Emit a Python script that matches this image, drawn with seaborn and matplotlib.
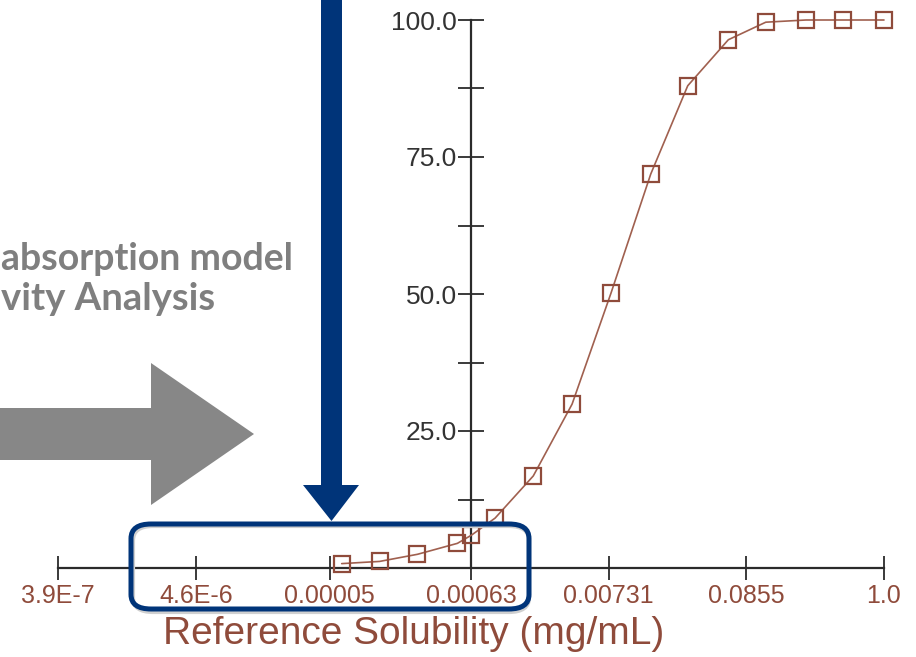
import matplotlib
matplotlib.use("Agg")
import matplotlib.pyplot as plt
from matplotlib.patches import Polygon, FancyBboxPatch
from matplotlib.ticker import FixedLocator, NullFormatter
import numpy as np
import pandas as pd
import seaborn as sns

# Fraction absorbed versus reference solubility (log scale)
solubility = [6.2e-5, 1.22e-4, 2.4e-4, 4.9e-4, 6.3e-4, 9.6e-4, 1.9e-3, 3.8e-3,
              7.6e-3, 0.0155, 0.030, 0.062, 0.121, 0.248, 0.48, 1.0]
absorbed = [0.8, 1.2, 2.5, 4.5, 6.0, 9.1, 16.8, 29.9,
            50.1, 71.9, 88.0, 96.4, 99.6, 100.0, 100.0, 100.0]

x_tick_values = [3.9e-7, 4.6e-6, 5e-5, 6.3e-4, 7.31e-3, 0.0855, 1.0]
x_tick_labels = ["3.9E-7", "4.6E-6", "0.00005", "0.00063", "0.00731", "0.0855", "1.0"]
y_major = [25.0, 50.0, 75.0, 100.0]
y_minor = [12.5, 37.5, 62.5, 87.5]

x_label = "Reference Solubility (mg/mL)"
note_line1 = "absorption model"
note_line2 = "vity Analysis"

sns.set_theme(style="white")
plt.rcParams["font.family"] = ["Liberation Sans", "DejaVu Sans"]

W, H = 916, 657
fig = plt.figure(figsize=(W / 100, H / 100), dpi=100)


def fx(px):
    return px / W


def fy(py):
    return 1 - py / H


ax = fig.add_axes([fx(58), fy(568), fx(884) - fx(58), fy(20) - fy(568)])
ax.set_xscale("log")

brown = "#8f4b3b"
axis_col = "#2b2b2b"

df = pd.DataFrame({"solubility": solubility, "absorbed": absorbed})
sns.lineplot(data=df, x="solubility", y="absorbed", ax=ax, color="#a0604f",
             linewidth=1.2, marker="s", markersize=12, markerfacecolor="none",
             markeredgecolor=brown, markeredgewidth=1.6, clip_on=False, zorder=3)

ax.set_xlim(x_tick_values[0], x_tick_values[-1])
ax.set_ylim(0, 100)

for side in ["top", "right"]:
    ax.spines[side].set_visible(False)
ax.spines["left"].set_position(("data", x_tick_values[3]))
ax.spines["bottom"].set_position(("data", 0))
for side in ["left", "bottom"]:
    ax.spines[side].set_color(axis_col)
    ax.spines[side].set_linewidth(1.6)

ax.xaxis.set_major_locator(FixedLocator(x_tick_values))
ax.xaxis.set_minor_locator(FixedLocator([]))
ax.set_xticklabels(x_tick_labels)
ax.tick_params(axis="x", which="major", direction="inout", length=17, width=1.3,
               color=axis_col, labelsize=18, labelcolor=brown, pad=3)

ax.yaxis.set_major_locator(FixedLocator(y_major))
ax.yaxis.set_minor_locator(FixedLocator(y_minor))
ax.yaxis.set_minor_formatter(NullFormatter())
ax.set_yticklabels([f"{v:.1f}" for v in y_major])
ax.tick_params(axis="y", which="both", direction="inout", length=19, width=1.3,
               color=axis_col, labelsize=19, labelcolor="#333333", pad=1)
ax.tick_params(axis="both", which="both", bottom=True, left=True)

ax.set_xlabel(x_label, fontsize=28, color=brown)
ax.set_ylabel("")
ax.xaxis.set_label_coords((414 - 58) / 826, -0.088)
ax.grid(False)

# Slide overlay: text, grey block arrow, navy arrow and highlight box
grey_txt = "#7f7f7f"
fig.text(fx(1), fy(270), note_line1, ha="left", va="baseline", fontsize=27,
         fontweight="bold", color=grey_txt, family=["Lato", "DejaVu Sans"])
fig.text(fx(1), fy(310), note_line2, ha="left", va="baseline", fontsize=27.5,
         fontweight="bold", color=grey_txt, family=["Lato", "DejaVu Sans"])

grey_arrow = [(-5, 408), (151, 408), (151, 363), (254, 434), (151, 505),
              (151, 460), (-5, 460)]
fig.add_artist(Polygon([(fx(a), fy(b)) for a, b in grey_arrow], closed=True,
                       transform=fig.transFigure, facecolor="#878787",
                       edgecolor="none"))

navy = "#003479"
navy_arrow = [(321, -5), (342, -5), (342, 485), (359, 485), (331.5, 521),
              (303, 485), (321, 485)]
fig.add_artist(Polygon([(fx(a), fy(b)) for a, b in navy_arrow], closed=True,
                       transform=fig.transFigure, facecolor=navy,
                       edgecolor="none", zorder=5))

# soft shadow under the highlight box
fig.add_artist(FancyBboxPatch((fx(133), fy(612)), fx(529) - fx(133), fy(526) - fy(612),
                              boxstyle="round,pad=0,rounding_size=0.022",
                              transform=fig.transFigure, facecolor="none",
                              edgecolor="#d0d0d0", linewidth=3, zorder=4))
fig.add_artist(FancyBboxPatch((fx(131), fy(609)), fx(529) - fx(131), fy(524) - fy(609),
                              boxstyle="round,pad=0,rounding_size=0.022",
                              transform=fig.transFigure, facecolor="none",
                              edgecolor=navy, linewidth=3.6, zorder=5))

fig.savefig("out.png", dpi=100)
